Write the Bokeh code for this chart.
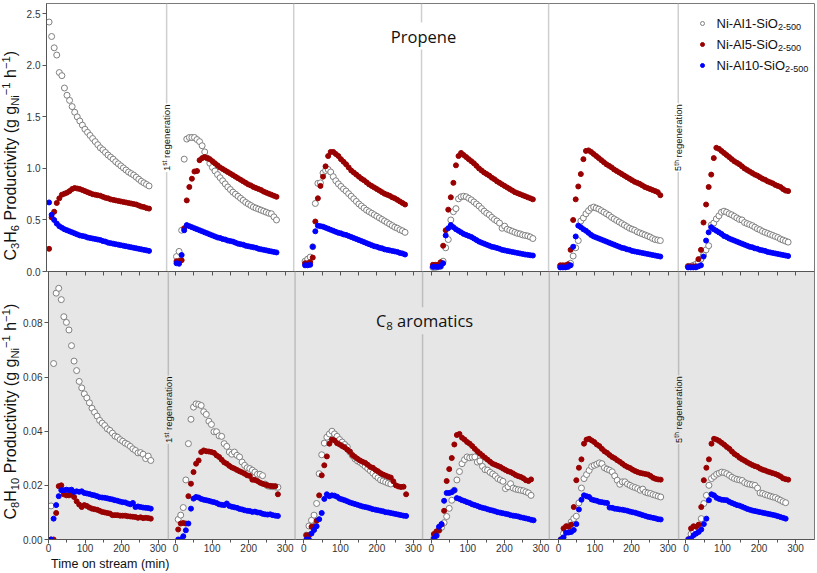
import math
from bokeh.plotting import figure
from bokeh.models import (ColumnDataSource, Range1d, FixedTicker, LinearAxis, Span, Label,
                          Legend, LegendItem, NumeralTickFormatter)
from bokeh.layouts import column, row
from bokeh.embed import file_html
from bokeh.resources import INLINE

nan = float("nan")

# ---------------- data ----------------
TIME = [7, 14, 21, 28, 35, 42, 49, 56, 63, 70, 77, 84, 91, 98, 105, 112, 119, 126, 133, 140,
        147, 154, 161, 168, 175, 182, 189, 196, 203, 210, 217, 224, 231, 238, 245, 252, 259, 266, 273, 280]
CYCLE_OFFSETS = [0, 348, 699, 1048, 1396, 1745]      # start of each reaction cycle on the shared axis
SEPARATORS = [328, 675, 1024, 1371, 1725]            # regeneration breaks between cycles
X_TICK_VALUES = [0, 100, 200, 300]
X_MINOR_VALUES = [50, 150, 250]
Y_TICKS_PROPENE = [0.0, 0.5, 1.0, 1.5, 2.0, 2.5]
Y_TICKS_C8 = [0.0, 0.02, 0.04, 0.06, 0.08]
SERIES_NAMES = ["Ni-Al1-SiO", "Ni-Al5-SiO", "Ni-Al10-SiO"]
SERIES_SUB = "2-500"

propene_al1 = [
    [2.42, 2.28, 2.17, 2.10, 1.93, 1.90, 1.78, 1.71, 1.66, 1.60, 1.545, 1.50, 1.46, 1.42, 1.38, 1.35, 1.32, 1.29, 1.26, 1.23,
     1.20, 1.18, 1.155, 1.13, 1.11, 1.09, 1.065, 1.045, 1.025, 1.005, 0.985, 0.965, 0.95, 0.935, 0.915, 0.895, 0.875, 0.86, 0.845, 0.83],
    [0.145, 0.195, 0.40, 1.09, 1.285, 1.30, 1.30, 1.30, 1.28, 1.26, 1.22, 1.16, 1.10, 1.05, 1.01, 0.975, 0.94, 0.91, 0.88, 0.85,
     0.82, 0.795, 0.77, 0.75, 0.73, 0.71, 0.69, 0.67, 0.655, 0.64, 0.625, 0.615, 0.605, 0.595, 0.585, 0.575, 0.565, 0.56, 0.53, 0.50],
    [0.10, 0.12, 0.14, 0.24, 0.66, 0.855, 0.86, 0.955, 0.98, 0.99, 0.965, 0.92, 0.88, 0.85, 0.825, 0.80, 0.78, 0.755, 0.73, 0.705,
     0.68, 0.655, 0.635, 0.615, 0.595, 0.58, 0.565, 0.55, 0.535, 0.52, 0.505, 0.49, 0.475, 0.46, 0.445, 0.43, 0.42, 0.405, 0.395, 0.38],
    [0.04, 0.04, 0.045, 0.05, 0.10, 0.23, 0.31, 0.50, 0.58, 0.61, 0.705, 0.725, 0.73, 0.725, 0.71, 0.695, 0.675, 0.655, 0.635, 0.61,
     0.585, 0.565, 0.55, 0.525, 0.505, 0.49, 0.47, 0.42, 0.44, 0.41, 0.40, 0.39, 0.38, 0.37, 0.365, 0.355, 0.35, 0.345, 0.335, 0.32],
    [0.05, 0.05, 0.05, 0.06, 0.08, 0.15, 0.23, 0.30, 0.49, 0.52, 0.56, 0.59, 0.615, 0.625, 0.615, 0.605, 0.59, 0.575, 0.56, 0.545,
     0.525, 0.51, 0.495, 0.48, 0.465, 0.45, 0.435, 0.42, 0.41, 0.40, 0.385, 0.375, 0.365, 0.355, 0.345, 0.335, 0.32, 0.31, 0.305, 0.30],
    [0.05, 0.05, 0.06, 0.07, 0.09, 0.12, 0.16, 0.21, 0.25, 0.45, 0.47, 0.51, 0.54, 0.575, 0.585, 0.575, 0.56, 0.55, 0.535, 0.52,
     0.505, 0.50, 0.475, 0.465, 0.455, 0.445, 0.43, 0.415, 0.405, 0.39, 0.38, 0.37, 0.36, 0.35, 0.34, 0.33, 0.315, 0.305, 0.295, 0.285],
]
propene_al5 = [
    [0.22, 0.525, 0.58, 0.665, 0.71, 0.745, 0.755, 0.765, 0.78, 0.80, 0.81, 0.805, 0.80, 0.79, 0.78, 0.77, 0.76, 0.75, 0.745, 0.74,
     0.735, 0.725, 0.715, 0.71, 0.70, 0.695, 0.69, 0.685, 0.68, 0.675, 0.67, 0.665, 0.66, 0.655, 0.65, 0.64, 0.63, 0.625, 0.615, 0.61],
    [0.10, 0.10, 0.11, 0.42, 0.69, 0.82, 0.90, 0.97, 0.975, 1.08, 1.10, 1.11, 1.10, 1.09, 1.07, 1.05, 1.03, 1.01, 0.995, 0.98,
     0.965, 0.95, 0.935, 0.92, 0.905, 0.89, 0.875, 0.86, 0.845, 0.835, 0.82, 0.81, 0.80, 0.79, 0.775, 0.765, 0.755, 0.745, 0.735, 0.725],
    [0.08, 0.08, 0.09, 0.135, 0.485, 0.71, 0.83, 0.92, 1.02, 1.12, 1.16, 1.16, 1.14, 1.12, 1.09, 1.065, 1.04, 1.01, 0.98, 0.96,
     0.94, 0.92, 0.90, 0.885, 0.865, 0.845, 0.83, 0.815, 0.80, 0.785, 0.77, 0.755, 0.745, 0.735, 0.72, 0.71, 0.695, 0.68, 0.665, 0.65],
    [0.065, 0.065, 0.065, 0.09, 0.25, 0.40, 0.60, 0.72, 0.86, 1.03, 1.12, 1.15, 1.13, 1.11, 1.09, 1.07, 1.05, 1.025, 1.00, 0.98,
     0.96, 0.945, 0.93, 0.91, 0.895, 0.875, 0.86, 0.845, 0.83, 0.815, 0.80, 0.785, 0.77, 0.76, 0.75, 0.74, 0.73, 0.72, 0.71, 0.70],
    [0.06, 0.06, 0.06, 0.07, 0.21, 0.50, 0.70, 0.825, 0.945, 1.09, 1.17, 1.175, 1.16, 1.14, 1.12, 1.10, 1.08, 1.06, 1.04, 1.025,
     1.01, 0.99, 0.975, 0.96, 0.945, 0.93, 0.915, 0.90, 0.885, 0.87, 0.86, 0.85, 0.835, 0.82, 0.81, 0.80, 0.79, 0.78, 0.77, 0.74],
    [0.05, 0.05, 0.05, 0.05, 0.12, 0.21, 0.475, 0.65, 0.82, 0.94, 1.10, 1.20, 1.19, 1.17, 1.15, 1.13, 1.11, 1.09, 1.07, 1.055,
     1.04, 1.02, 1.00, 0.985, 0.97, 0.955, 0.94, 0.93, 0.915, 0.90, 0.89, 0.875, 0.865, 0.855, 0.84, 0.83, 0.82, 0.80, 0.785, 0.78],
]
propene_al10 = [
    [0.67, 0.55, 0.50, 0.465, 0.44, 0.425, 0.41, 0.40, 0.39, 0.38, 0.37, 0.36, 0.35, 0.345, 0.34, 0.33, 0.325, 0.32, 0.315, 0.31,
     0.305, 0.295, 0.29, 0.28, 0.275, 0.27, 0.265, 0.26, 0.255, 0.25, 0.245, 0.24, 0.235, 0.23, 0.225, 0.22, 0.215, 0.21, 0.205, 0.20],
    [0.08, 0.075, 0.16, 0.40, 0.45, 0.44, 0.43, 0.42, 0.41, 0.40, 0.39, 0.38, 0.37, 0.36, 0.35, 0.34, 0.33, 0.325, 0.315, 0.31,
     0.30, 0.295, 0.29, 0.28, 0.27, 0.265, 0.26, 0.25, 0.245, 0.24, 0.235, 0.23, 0.22, 0.215, 0.21, 0.205, 0.20, 0.195, 0.19, 0.185],
    [0.06, 0.06, 0.065, 0.24, 0.39, 0.445, 0.44, 0.435, 0.425, 0.415, 0.405, 0.395, 0.385, 0.375, 0.37, 0.36, 0.355, 0.345, 0.335, 0.325,
     0.315, 0.305, 0.295, 0.285, 0.275, 0.265, 0.255, 0.245, 0.24, 0.23, 0.225, 0.215, 0.21, 0.205, 0.20, 0.195, 0.19, 0.18, 0.175, 0.165],
    [0.045, 0.045, 0.045, 0.05, 0.08, 0.35, 0.42, 0.45, 0.43, 0.41, 0.395, 0.38, 0.365, 0.355, 0.345, 0.335, 0.32, 0.305, 0.29, 0.28,
     0.27, 0.26, 0.25, 0.24, 0.235, 0.228, 0.22, 0.21, 0.205, 0.20, 0.195, 0.19, 0.185, 0.18, 0.175, 0.17, 0.165, 0.162, 0.158, 0.155],
    [0.04, 0.04, 0.04, 0.045, 0.06, 0.24, 0.34, 0.445, 0.43, 0.41, 0.395, 0.375, 0.355, 0.34, 0.33, 0.32, 0.31, 0.30, 0.29, 0.28,
     0.27, 0.26, 0.25, 0.24, 0.23, 0.225, 0.215, 0.21, 0.20, 0.195, 0.19, 0.185, 0.18, 0.175, 0.17, 0.165, 0.16, 0.155, 0.15, 0.145],
    [0.04, 0.04, 0.04, 0.04, 0.05, 0.06, 0.145, 0.30, 0.38, 0.43, 0.41, 0.395, 0.38, 0.365, 0.345, 0.335, 0.32, 0.31, 0.30, 0.29,
     0.28, 0.27, 0.26, 0.25, 0.24, 0.235, 0.225, 0.22, 0.21, 0.205, 0.20, 0.19, 0.185, 0.18, 0.175, 0.17, 0.165, 0.16, 0.155, 0.15],
]
c8_al1 = [
    [0.0124, 0.065, 0.091, 0.0928, 0.0886, 0.0823, 0.0802, 0.0774, 0.0716, 0.0659, 0.0624, 0.0584, 0.056, 0.0538, 0.0523, 0.0505, 0.0485, 0.047, 0.0456, 0.044,
     0.043, 0.0421, 0.0409, 0.0403, 0.0393, 0.0382, 0.0378, 0.0369, 0.0363, 0.0356, 0.0351, 0.0344, 0.0335, 0.0329, 0.032, 0.0321, 0.0315, 0.0299, 0.0308, 0.0292],
    [0.0074, 0.009, 0.0118, 0.022, 0.0354, 0.0444, 0.0489, 0.0501, 0.0499, 0.0495, 0.0472, 0.0462, 0.0437, 0.0425, 0.0398, 0.0398, 0.0383, 0.0381, 0.0354, 0.0344,
     0.0323, 0.0315, 0.0323, 0.0311, 0.0305, 0.0286, 0.0274, 0.0265, 0.0262, 0.0256, 0.0249, 0.0241, 0.0241, 0.0236, 0.0205, 0.0198, 0.0196, 0.0195, 0.0194, 0.0193],
    [0.0016, 0.005, 0.0071, 0.009, 0.0133, 0.0243, 0.0313, 0.0356, 0.0378, 0.039, 0.040, 0.039, 0.0381, 0.0369, 0.036, 0.0351, 0.0342, 0.0323, 0.031, 0.0298,
     0.029, 0.0285, 0.0278, 0.027, 0.0262, 0.0254, 0.0245, 0.0235, 0.0228, 0.022, 0.0216, 0.0212, 0.0208, 0.0205, nan, nan, nan, nan, nan, nan],
    [0.0005, 0.0016, 0.0034, 0.0045, 0.0062, 0.0085, 0.0115, 0.0145, 0.0182, 0.022, 0.0251, 0.028, 0.0295, 0.0305, 0.0302, 0.0304, 0.0305, 0.0286, 0.029, 0.027,
     0.0258, 0.0256, 0.0248, 0.0242, 0.0235, 0.0225, 0.022, 0.0215, 0.0188, 0.0195, 0.0206, 0.019, 0.0186, 0.0184, 0.0182, 0.018, 0.0176, 0.0172, 0.0163, nan],
    [0.0, 0.0022, 0.0034, 0.005, 0.0065, 0.0077, 0.0086, 0.0135, 0.019, 0.0225, 0.024, 0.0255, 0.027, 0.0274, 0.0278, 0.0283, 0.028, 0.0265, 0.026, 0.0256,
     0.025, 0.0235, 0.0219, 0.0204, 0.0213, 0.0213, 0.0205, 0.02, 0.0195, 0.0192, 0.0188, 0.0182, 0.0186, 0.0175, 0.0172, 0.017, 0.0166, 0.0163, 0.016, 0.0157],
    [0.0, 0.002, 0.0028, 0.0035, 0.0045, 0.0077, 0.0133, 0.0163, 0.02, 0.0225, 0.0233, 0.0241, 0.0245, 0.0249, 0.0247, 0.0243, 0.0237, 0.023, 0.0225, 0.0222,
     0.022, 0.0218, 0.021, 0.0206, 0.0204, 0.0202, 0.02, 0.019, 0.0172, 0.017, 0.0166, 0.0163, 0.016, 0.0157, 0.0155, 0.015, 0.0145, 0.014, 0.0136, nan],
]
c8_al5 = [
    [0.0, 0.0, 0.0098, 0.0197, 0.020, 0.0167, 0.0163, 0.0163, 0.0167, 0.0157, 0.0141, 0.0129, 0.012, 0.0127, 0.0124, 0.0118, 0.0114, 0.0112, 0.011, 0.0106,
     0.0102, 0.010, 0.0098, 0.0096, 0.009, 0.009, 0.009, 0.0088, 0.0088, 0.0088, 0.0086, 0.0085, 0.0084, 0.0083, 0.008, 0.0082, 0.0079, 0.008, 0.0079, 0.0077],
    [0.0037, 0.0059, 0.0061, 0.0059, 0.016, 0.0206, 0.0249, 0.028, 0.0292, 0.0323, 0.0329, 0.0326, 0.0325, 0.0323, 0.032, 0.0311, 0.0305, 0.0295, 0.0285, 0.028,
     0.0272, 0.0266, 0.0262, 0.0257, 0.0252, 0.0248, 0.0243, 0.0237, 0.0235, 0.0221, 0.022, 0.0216, 0.021, 0.0206, 0.0203, 0.02, 0.0198, 0.0197, 0.0197, 0.0167],
    [0.0016, 0.0016, 0.0047, 0.0049, 0.0069, 0.0163, 0.0237, 0.0274, 0.0307, 0.0354, 0.0369, 0.0366, 0.0356, 0.0351, 0.0345, 0.034, 0.0332, 0.0325, 0.0312, 0.0305,
     0.0298, 0.0292, 0.0287, 0.0283, 0.0276, 0.0268, 0.0265, 0.0257, 0.0252, 0.0245, 0.024, 0.0236, 0.0232, 0.0229, 0.0215, 0.02, 0.0196, 0.0194, 0.0195, 0.0167],
    [0.002, 0.003, 0.0034, 0.0055, 0.0106, 0.0216, 0.026, 0.0301, 0.0351, 0.0386, 0.039, 0.0376, 0.0369, 0.036, 0.0354, 0.0345, 0.0335, 0.0326, 0.0318, 0.031,
     0.0302, 0.0295, 0.0287, 0.028, 0.0276, 0.0272, 0.0268, 0.0262, 0.0257, 0.0252, 0.0249, 0.0244, 0.0238, 0.0234, 0.0231, 0.0226, 0.0219, 0.0216, 0.0222, nan],
    [0.0, 0.0041, 0.0049, 0.0047, 0.0055, 0.012, 0.0219, 0.0265, 0.0296, 0.0354, 0.0369, 0.0372, 0.0366, 0.036, 0.0351, 0.0345, 0.0335, 0.0326, 0.032, 0.0312,
     0.0305, 0.03, 0.0293, 0.0287, 0.028, 0.0273, 0.0268, 0.0264, 0.0258, 0.0253, 0.0249, 0.0246, 0.0244, 0.0242, 0.024, 0.0235, 0.0228, 0.0224, 0.0222, 0.0221],
    [0.0, 0.0041, 0.0049, 0.0047, 0.0055, 0.012, 0.0219, 0.0265, 0.0296, 0.0354, 0.0372, 0.0369, 0.0364, 0.0357, 0.035, 0.0342, 0.0335, 0.0325, 0.0316, 0.031,
     0.0302, 0.0296, 0.0291, 0.0285, 0.028, 0.0275, 0.0271, 0.0268, 0.0262, 0.0258, 0.0255, 0.0251, 0.0248, 0.0245, 0.0242, 0.0238, 0.0233, 0.0226, 0.0223, 0.0221],
]
c8_al10 = [
    [0.0, 0.0077, 0.0127, 0.016, 0.0182, 0.0182, 0.0184, 0.0182, 0.0184, 0.0176, 0.0178, 0.0176, 0.0178, 0.0172, 0.017, 0.0168, 0.0165, 0.0163, 0.016, 0.0156,
     0.0155, 0.0154, 0.0152, 0.015, 0.0148, 0.0145, 0.0143, 0.014, 0.0138, 0.0137, 0.0133, 0.013, 0.0135, 0.012, 0.0122, 0.012, 0.0118, 0.0117, 0.0116, 0.0114],
    [0.0, 0.0, 0.0012, 0.0034, 0.0059, 0.0114, 0.0151, 0.0157, 0.0155, 0.015, 0.0147, 0.0145, 0.0143, 0.014, 0.0138, 0.0135, 0.013, 0.0128, 0.0127, 0.0133,
     0.0124, 0.0121, 0.0119, 0.0117, 0.0113, 0.0111, 0.0108, 0.0106, 0.0105, 0.0102, 0.0103, 0.01, 0.0099, 0.0095, 0.0093, 0.0092, 0.0093, 0.009, 0.0088, 0.0087],
    [0.0, 0.0, 0.0022, 0.0035, 0.0049, 0.0075, 0.0098, 0.015, 0.0167, 0.016, 0.0163, 0.0162, 0.0158, 0.0151, 0.0148, 0.0145, 0.0141, 0.0137, 0.0134, 0.0131,
     0.0128, 0.0125, 0.0122, 0.012, 0.0118, 0.0115, 0.0112, 0.011, 0.0108, 0.0106, 0.0104, 0.0101, 0.01, 0.0098, 0.0096, 0.0094, 0.0092, 0.009, 0.0088, 0.0087],
    [0.0004, 0.0014, 0.0047, 0.0057, 0.0143, 0.0172, 0.0172, 0.0175, 0.0182, 0.0153, 0.015, 0.0145, 0.0142, 0.0138, 0.0135, 0.013, 0.0127, 0.0124, 0.012, 0.0117,
     0.0115, 0.0112, 0.0109, 0.0107, 0.0104, 0.0101, 0.0099, 0.0097, 0.0095, 0.0093, 0.009, 0.0088, 0.0087, 0.0085, 0.0082, 0.008, 0.0078, 0.0076, 0.0073, 0.0071],
    [0.0, 0.0008, 0.0025, 0.0026, 0.0028, 0.0035, 0.0057, 0.0111, 0.0147, 0.0163, 0.016, 0.0157, 0.0148, 0.0145, 0.0143, 0.0139, 0.0138, 0.0136, 0.0135, 0.0118,
     0.0117, 0.0114, 0.0113, 0.0111, 0.011, 0.0108, 0.0106, 0.0103, 0.0101, 0.0099, 0.0096, 0.0093, 0.009, 0.0087, 0.0084, 0.0082, 0.008, 0.0078, 0.0075, 0.0074],
    [0.0, 0.0004, 0.0016, 0.0022, 0.0028, 0.0037, 0.0057, 0.0077, 0.0145, 0.0167, 0.0163, 0.0154, 0.015, 0.0147, 0.0146, 0.0145, 0.0139, 0.0135, 0.0131, 0.0127,
     0.0125, 0.0121, 0.0117, 0.0113, 0.011, 0.0107, 0.0105, 0.0103, 0.0101, 0.0099, 0.0097, 0.0095, 0.0093, 0.0091, 0.0089, 0.0086, 0.0083, 0.008, 0.0077, nan],
]

# ---------------- styling helpers ----------------
SANS = "Liberation Sans"
TITLE_FONT = "Open Sans"
RED = "#990000"
BLUE = "#0000ff"
GREY = "#808080"
BOTTOM_BG = "#e6e6e6"
X_END = 2097
OVERLAP = 7   # the top panel's "0.0" label hangs into the lower panel's margin

ARIAL = {' ': .278, '(': .333, ')': .333, '-': .333, '\u2212': .584, 'A': .667, 'C': .722, 'H': .722, 'N': .722,
         'O': .778, 'P': .667, 'S': .667, 'T': .611, 'a': .556, 'c': .5, 'd': .556, 'e': .556, 'g': .556, 'h': .556,
         'i': .222, 'l': .222, 'm': .833, 'n': .556, 'o': .556, 'r': .333, 's': .5, 't': .278, 'u': .556, 'v': .5,
         'y': .5}
OPENSANS = {' ': .26, 'C': .634, 'P': .603, 'a': .556, 'c': .476, 'e': .561, 'i': .253, 'm': .93, 'n': .614,
            'o': .604, 'p': .613, 'r': .408, 's': .477, 't': .353}
FONTS = {"sans": (SANS, ARIAL, 0.347), "title": (TITLE_FONT, OPENSANS, 0.388)}


def twidth(s, table, size):
    return sum(table.get(ch, 0.556) for ch in s) * size


def rich(fig, pieces, x, y, x_units, y_units, size, font="sans", color="#111111",
         vertical=False, center=False, dx=0.0, dy=0.0, bg=None, pad=0):
    """Text made of normal / subscript / superscript pieces laid side by side.
    (x, y) + (dx, dy) is the start of the main baseline."""
    family, table, mid = FONTS[font]
    scale = {"n": 1.0, "sub": 0.7, "sup": 0.7}
    shift = {"n": 0.0, "sub": -0.17, "sup": 0.36}
    widths = [twidth(t, table, size * scale[k]) for t, k in pieces]
    cum = -sum(widths) / 2 if center else 0.0
    for (t, k), w in zip(pieces, widths):
        fs = size * scale[k]
        stripped = t.lstrip(" ")
        lead = twidth(t[:len(t) - len(stripped)], table, fs)
        up = shift[k] * size + mid * fs
        kw = dict(x=x, y=y, x_units=x_units, y_units=y_units, text=stripped, text_font=family,
                  text_font_size=f"{fs:.2f}px", text_color=color,
                  text_align="left", text_baseline="middle")
        if bg is not None:
            kw.update(background_fill_color=bg, background_fill_alpha=1.0, padding=pad)
        if vertical:
            kw.update(angle=math.pi / 2, x_offset=dx - up, y_offset=dy + cum + lead)
        else:
            kw.update(x_offset=dx + cum + lead, y_offset=dy + up)
        fig.add_layout(Label(**kw))
        cum += w


def series_source(values):
    xs, ys = [], []
    for off, cyc in zip(CYCLE_OFFSETS, values):
        for t, v in zip(TIME, cyc):
            xs.append(off + t)
            ys.append(v)
    return ColumnDataSource(dict(x=xs, y=ys))


def add_series(fig, al1, al5, al10):
    r1 = fig.scatter("x", "y", source=series_source(al1), marker="circle", size=6,
                     fill_color="white", line_color=GREY, line_width=1)
    r2 = fig.scatter("x", "y", source=series_source(al5), marker="circle", size=5,
                     fill_color=RED, line_color=RED)
    r3 = fig.scatter("x", "y", source=series_source(al10), marker="circle", size=5,
                     fill_color=BLUE, line_color=BLUE)
    return [r1, r2, r3]


def style_y(ax, ticks, fmt):
    ax.ticker = FixedTicker(ticks=ticks)
    ax.formatter = NumeralTickFormatter(format=fmt)
    ax.major_label_text_font = SANS
    ax.major_label_text_font_size = "10px"
    ax.major_label_text_color = "#333333"
    ax.major_tick_out = 4
    ax.major_tick_in = 0
    ax.minor_tick_line_color = None
    ax.axis_line_color = "#555555"
    ax.major_tick_line_color = "#555555"
    ax.major_label_standoff = 2


def base_fig(height, y_end, bg, top_border, bottom_border, x_loc, border_alpha=1.0):
    f = figure(width=796, height=height, x_range=Range1d(0, X_END), y_range=Range1d(0, y_end),
               output_backend="svg", toolbar_location=None, x_axis_location=x_loc,
               min_border_left=26, min_border_right=2, min_border_top=top_border,
               min_border_bottom=bottom_border, background_fill_color=bg, border_fill_color="white",
               border_fill_alpha=border_alpha)
    f.grid.visible = False
    f.outline_line_color = "#7a7a7a"
    f.outline_line_width = 1
    return f


def text_fig(width, height):
    f = figure(width=width, height=height, x_range=Range1d(0, 1), y_range=Range1d(0, 1),
               output_backend="svg", toolbar_location=None, x_axis_location=None,
               y_axis_location=None, min_border=0, outline_line_color=None,
               background_fill_color="white", border_fill_color="white")
    f.grid.visible = False
    return f


# ---------------- top: propene ----------------
p_top = base_fig(271 + OVERLAP, 2.6, "white", 3, OVERLAP, None)
style_y(p_top.yaxis[0], Y_TICKS_PROPENE, "0.0")
for s in SEPARATORS:
    p_top.add_layout(Span(location=s, dimension="height", line_color="#cfcfcf", line_width=1.5))
top_r = add_series(p_top, propene_al1, propene_al5, propene_al10)

# ---------------- bottom: C8 aromatics ----------------
p_bot = base_fig(286, 0.099, BOTTOM_BG, 0, 18, "below", border_alpha=0.0)
style_y(p_bot.yaxis[0], Y_TICKS_C8, "0.00")
xa = p_bot.xaxis[0]
major = [o + t for o in CYCLE_OFFSETS for t in X_TICK_VALUES]
minor = [o + t for o in CYCLE_OFFSETS for t in X_MINOR_VALUES]
xa.ticker = FixedTicker(ticks=major, minor_ticks=minor)
xa.major_label_overrides = {o + t: str(t) for o in CYCLE_OFFSETS for t in X_TICK_VALUES}
xa.major_label_text_font = SANS
xa.major_label_text_font_size = "10px"
xa.major_label_text_color = "#333333"
xa.major_tick_out = 4
xa.major_tick_in = 0
xa.minor_tick_out = 3
xa.minor_tick_in = 0
xa.major_label_standoff = 0
xa.axis_line_color = "#555555"
xa.major_tick_line_color = "#555555"
xa.minor_tick_line_color = "#555555"

top_ticks = sorted(major + minor)
ax_above = LinearAxis(ticker=FixedTicker(ticks=top_ticks), major_tick_in=4, major_tick_out=0,
                      minor_tick_line_color=None, major_label_text_font_size="0px",
                      major_label_standoff=0, axis_line_color="#555555",
                      major_tick_line_color="#555555",
                      major_label_overrides={t: "" for t in top_ticks})
p_bot.add_layout(ax_above, "above")
for s in SEPARATORS:
    p_bot.add_layout(Span(location=s, dimension="height", line_color="#bdbdbd", line_width=1.5))
add_series(p_bot, c8_al1, c8_al5, c8_al10)

# ---------------- y-axis titles (own narrow panels) ----------------
yt_top = text_fig(20, 271 + OVERLAP)
rich(yt_top, [("C", "n"), ("3", "sub"), ("H", "n"), ("6", "sub"), (" Productivity (g g", "n"), ("Ni", "sub"),
              ("\u22121", "sup"), (" h", "n"), ("\u22121", "sup"), (")", "n")],
     x=15.5, y=4 + OVERLAP, x_units="screen", y_units="screen", size=16, vertical=True)
yt_bot = text_fig(20, 286)
rich(yt_bot, [("C", "n"), ("8", "sub"), ("H", "n"), ("10", "sub"), (" Productivity (g g", "n"), ("Ni", "sub"),
              ("\u22121", "sup"), (" h", "n"), ("\u22121", "sup"), (")", "n")],
     x=15.5, y=20, x_units="screen", y_units="screen", size=16, vertical=True)

# ---------------- x-axis title ----------------
xt = text_fig(816, 16)
rich(xt, [("Time on stream (min)", "n")], x=110, y=4.7, x_units="screen", y_units="screen",
     size=12.5, center=True)

# ---------------- panel titles ----------------
rich(p_top, [("Propene", "n")], x=SEPARATORS[2], y=229, x_units="data", y_units="screen",
     size=16.5, font="title", center=True, bg="white", pad=2)
rich(p_bot, [("C", "n"), ("8", "sub"), (" aromatics", "n")], x=SEPARATORS[2], y=212.3,
     x_units="data", y_units="screen", size=16.5, font="title", center=True, bg=BOTTOM_BG, pad=2)

# ---------------- regeneration markers ----------------
for fig, bg, y0 in ((p_top, "white", 99.5), (p_bot, BOTTOM_BG, 95.5)):
    rich(fig, [("1", "n"), ("st", "sup"), (" regeneration", "n")], x=SEPARATORS[0], y=y0,
         x_units="data", y_units="screen", size=9.5, vertical=True, dx=3.5, bg=bg, pad=1)
    rich(fig, [("5", "n"), ("th", "sup"), (" regeneration", "n")], x=SEPARATORS[4], y=y0,
         x_units="data", y_units="screen", size=9.5, vertical=True, dx=3.5, bg=bg, pad=1)

# ---------------- legend ----------------
legend = Legend(items=[LegendItem(label=" ", renderers=[r]) for r in top_r],
                location=(650.7, 198.7), orientation="vertical", glyph_width=10, glyph_height=14,
                label_height=14, spacing=7, padding=0, margin=0, label_standoff=0,
                label_text_font_size="8px", border_line_color=None, background_fill_alpha=0)
p_top.add_layout(legend)
for i, name in enumerate(SERIES_NAMES):
    rich(p_top, [(name, "n"), (SERIES_SUB, "sub")], x=670, y=243.3 - 20.9 * i,
         x_units="screen", y_units="screen", size=13)

layout = column(row(yt_top, p_top, spacing=0),
                row(yt_bot, p_bot, spacing=0, margin=(-OVERLAP, 0, 0, 0)),
                xt, spacing=0)
open("out.html", "w").write(file_html(layout, INLINE))
